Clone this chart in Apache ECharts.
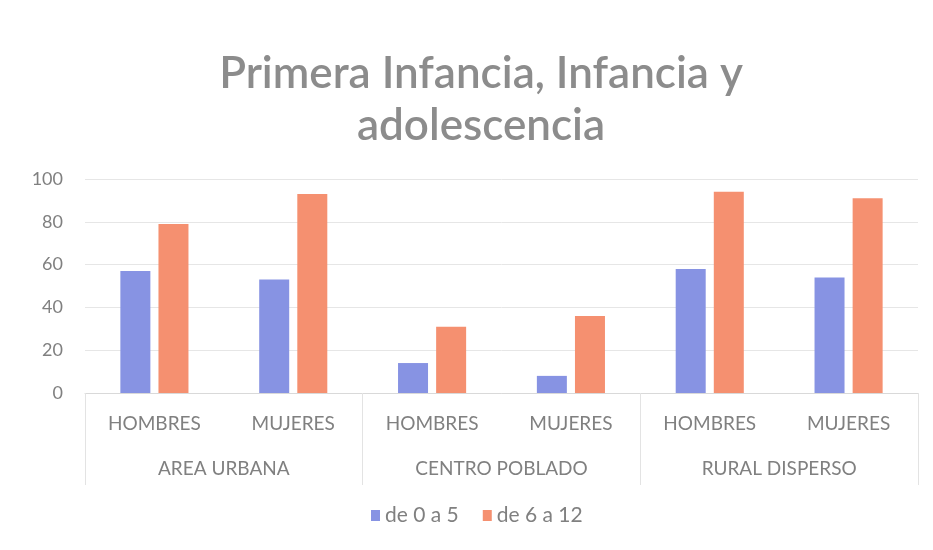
<!DOCTYPE html>
<html>
<head>
<meta charset="utf-8">
<script src="https://cdn.jsdelivr.net/npm/echarts@6/dist/echarts.min.js"></script>
<style>html,body{margin:0;padding:0;background:#fff}#c{width:933px;height:550px}</style>
</head>
<body>
<div id="c"></div>
<script>
const titleText = "Primera Infancia, Infancia y\nadolescencia";
const subCategories = ["HOMBRES", "MUJERES", "HOMBRES", "MUJERES", "HOMBRES", "MUJERES"];
const groups = ["AREA URBANA", "CENTRO POBLADO", "RURAL DISPERSO"];
const seriesNames = ["de 0 a 5", "de 6 a 12"];
const values0a5 = [57, 53, 14, 8, 58, 54];
const values6a12 = [79, 93, 31, 36, 94, 91];
const yTicks = { min: 0, max: 100, interval: 20 };

const grey = "#808080";
const chart = echarts.init(document.getElementById("c"));
chart.setOption({
  backgroundColor: "#ffffff",
  animation: false,
  textStyle: { fontFamily: "Lato, 'Noto Sans', sans-serif" },
  title: {
    text: titleText,
    left: 476,
    top: 43,
    textAlign: "center",
    textStyle: { fontSize: 44, fontWeight: 600, color: "#8c8c8c", lineHeight: 52, fontFamily: "Lato, sans-serif" }
  },
  legend: {
    data: seriesNames,
    bottom: 19,
    left: 366,
    icon: "rect",
    itemWidth: 9,
    itemHeight: 11,
    itemGap: 24,
    textStyle: { color: grey, fontSize: 21 }
  },
  grid: { left: 85, right: 15, top: 179, bottom: 157, containLabel: false },
  xAxis: [
    {
      type: "category",
      data: subCategories,
      position: "bottom",
      axisLine: { show: true, lineStyle: { color: "#d9d9d9" } },
      axisTick: { show: false },
      axisLabel: { color: grey, fontSize: 19, margin: 21 }
    },
    {
      type: "category",
      data: groups,
      position: "bottom",
      axisLine: { show: false },
      axisTick: { show: true, length: 92, lineStyle: { color: "#e3e3e3" } },
      axisLabel: { color: grey, fontSize: 19, margin: 66 },
      splitLine: { show: false }
    }
  ],
  yAxis: {
    type: "value",
    min: yTicks.min,
    max: yTicks.max,
    interval: yTicks.interval,
    axisLine: { show: false },
    axisTick: { show: false },
    axisLabel: { color: grey, fontSize: 18, margin: 22 },
    splitLine: { lineStyle: { color: "#e6e6e6" } }
  },
  series: [
    { name: seriesNames[0], type: "bar", xAxisIndex: 0, data: values0a5, barWidth: 30, barGap: "27%", itemStyle: { color: "#8793e3" } },
    { name: seriesNames[1], type: "bar", xAxisIndex: 0, data: values6a12, barWidth: 30, barGap: "27%", itemStyle: { color: "#f59070" } }
  ]
});
</script>
</body>
</html>
